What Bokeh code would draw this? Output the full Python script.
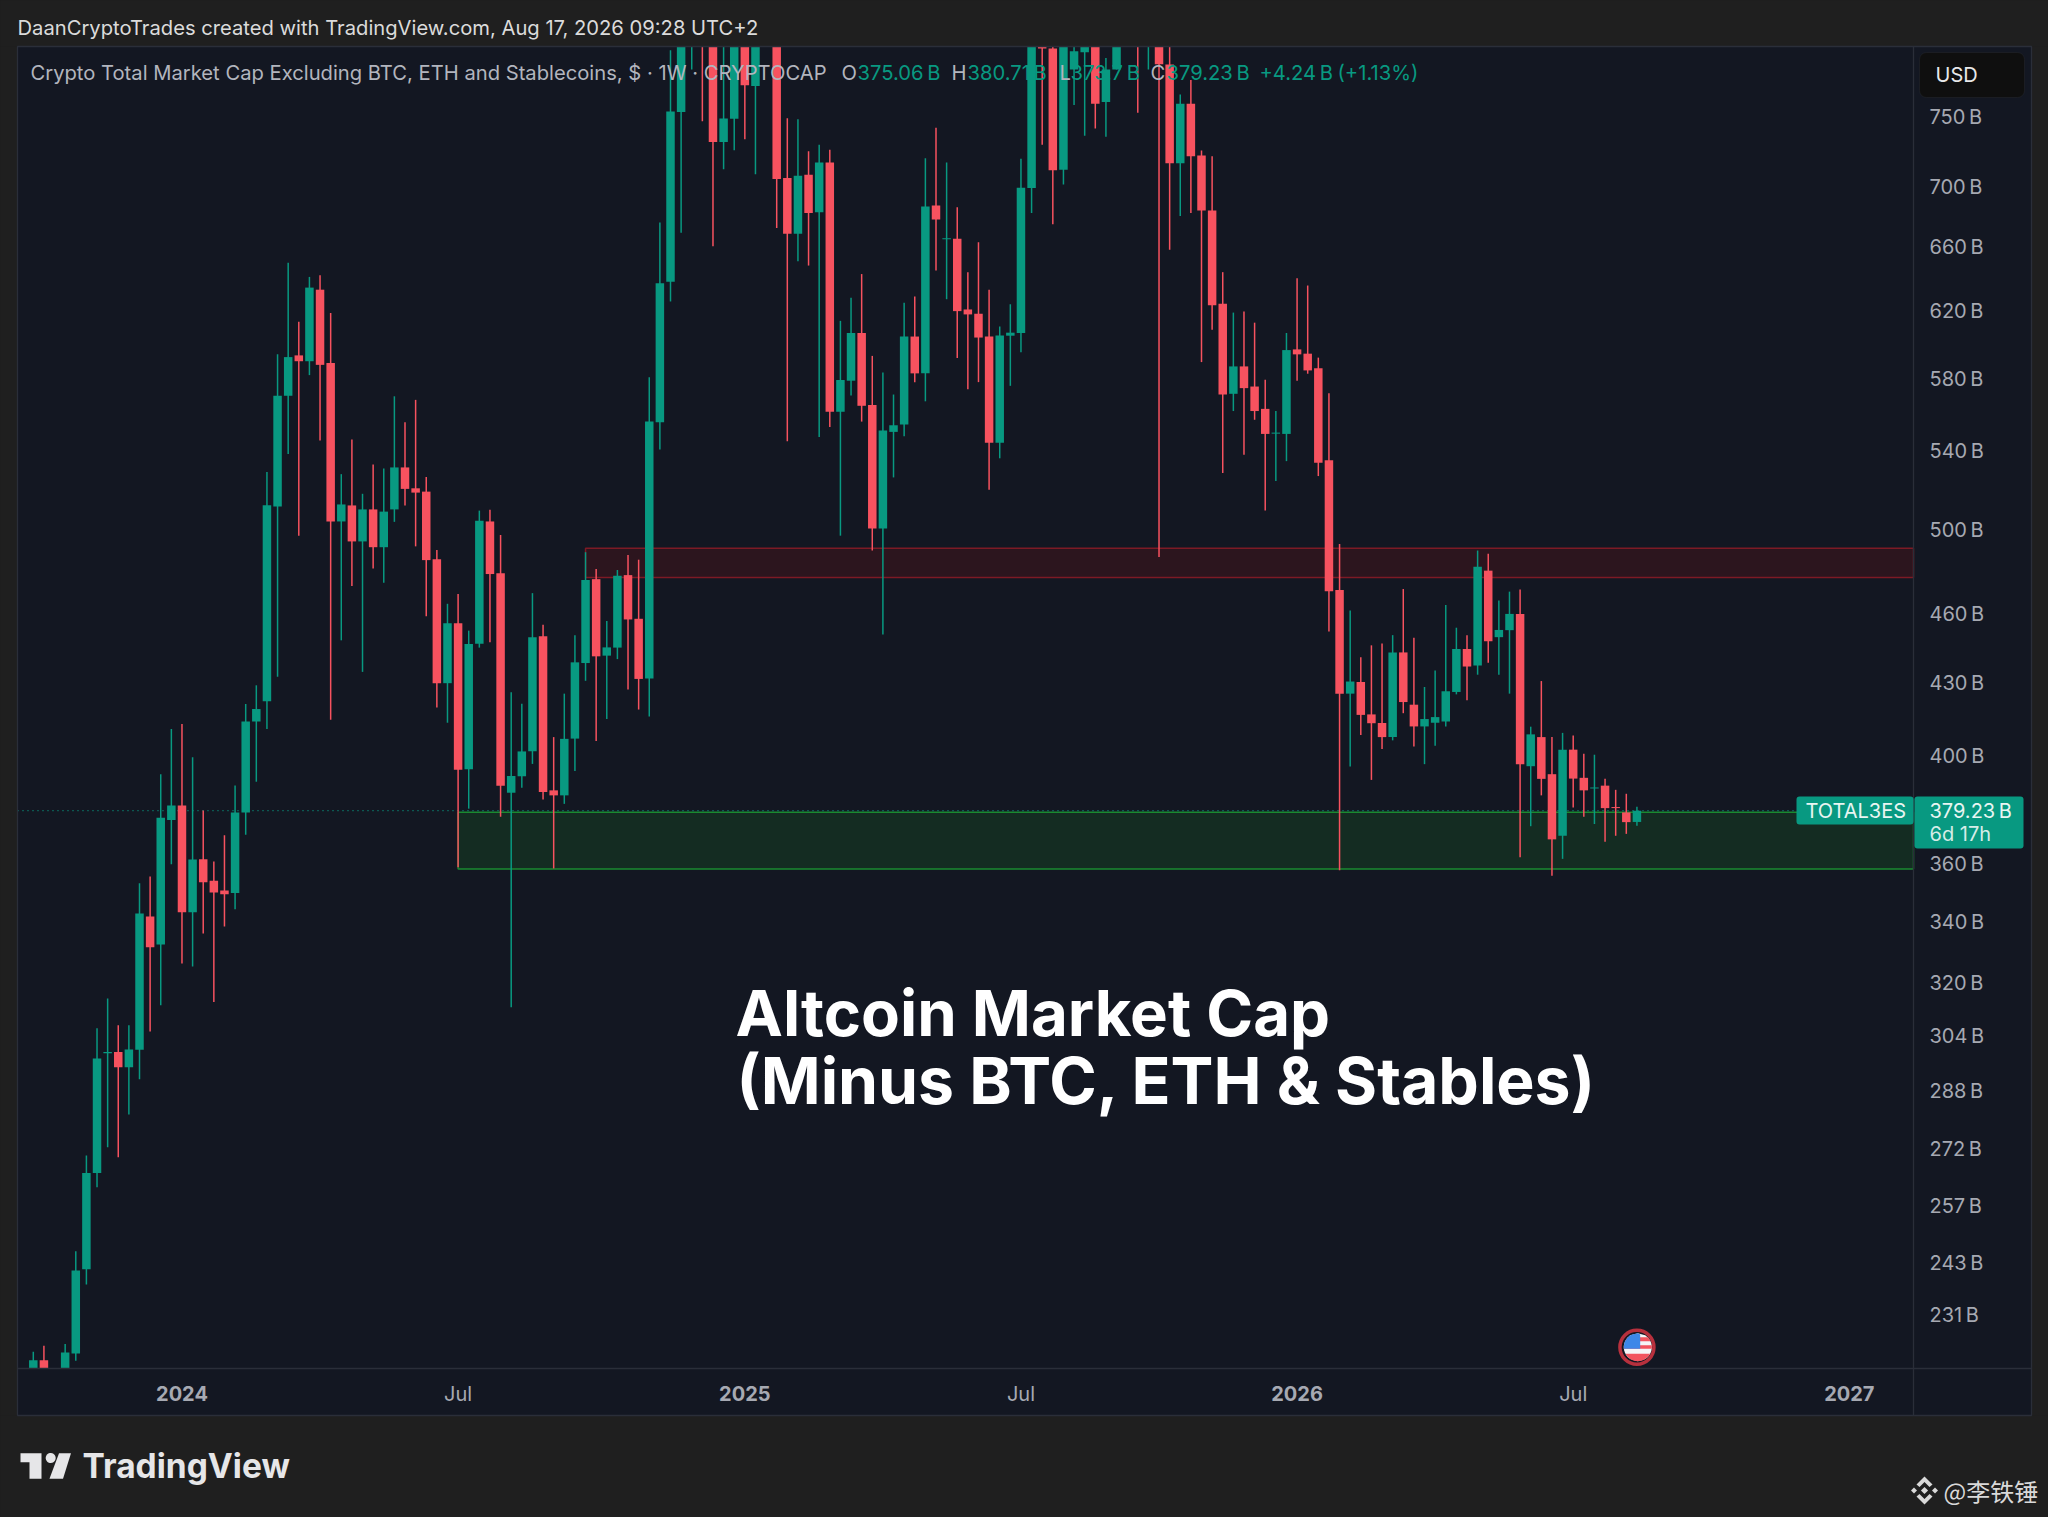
import numpy as np
import pandas as pd
from bokeh.embed import file_html
from bokeh.models import BoxAnnotation, FixedTicker, Label, LinearAxis, PolyAnnotation, Range1d
from bokeh.plotting import figure
from bokeh.resources import INLINE

# ---------- data (billions of USD, weekly candles) ----------
first_week = "2023-09-25"
opens = [217,220.9,215,218,222.4,241.6,265.6,298.8,299.1,294.7,299.8,341.8,332.5,375.8,381.2,343.2,361.6,354,350.6,349.8,
378.6,414,422.3,511.5,570.3,593.4,590,633,589,504,512,494.2,510,491.4,510,531.5,520.7,519,485.6,429.9,
456,395,446.9,504,479,386,392.3,402.1,450.2,386.9,385,407.1,438.5,476.2,441.7,445.2,478.1,458,431.9,555.7,
638,753.8,825,870,820,732,748.8,815,773.3,835,815,706.4,668.8,708.7,683,717.3,561.4,578.8,606.6,565.2,
500.5,550.4,554.4,604.5,583,687.7,665.5,665.5,620.8,618.2,604.5,544.6,605,606.6,699.5,815,802.4,712.3,786,799.4,
815,761.3,786,815,850,815,825,789.8,716.8,760,722.3,684.3,624.3,571.4,587,575.5,563,549.8,549.3,596.9,
594.4,586,535.3,471.2,425.5,430.4,416.9,413.4,407.7,443.1,420.9,412,413.5,414,426.2,444.6,437.4,480.2,449.8,452.9,
460.2,396.2,407.7,393.1,370,402.7,391.7,387.8,388.7,380.6,378.6,375.06]
highs = [222.8,224.1,218,224.5,245.9,270.2,306.2,315.3,307.1,307.1,353.1,355.5,393.1,411,413,399.7,379.3,360.8,370.2,388.8,
421.2,429,529.1,594,650,613.3,641,642,618.6,528,546.3,517.9,533,531,570,555.6,568,526.5,490.1,464.8,
469.3,452.7,509.4,509.8,497.3,426.1,421.3,469.7,455.3,407.7,425.5,450.7,489,481,457,480.5,487.7,485.4,580.8,676.3,
801,835,880,890,850,820,830,845,850,860,845,749.3,748.5,725.3,730,726.3,613.9,628,642.8,593.1,
583.5,571,624.9,628.8,720.4,742.3,717.3,686.4,644,663.2,633,610.5,624,719.9,840,835,830,825,820,830,
840,795,835,860,870,870,860,830,767,778,725.8,721.8,644,618.9,619.5,612.8,579.3,561.8,606.6,640.2,
635.6,592.1,571.7,493,461.7,441,446.2,447,450.7,471.6,449.5,428.3,435.3,464.2,454,450.7,489.8,488.2,466.3,470.4,
471.4,411.9,430.8,407.7,409.4,408.3,401.1,400.7,391.3,387.1,385.6,380.71]
lows = [215,215,213,216,220.8,238,261.9,272.4,269.7,281.3,291.2,305.2,313.2,359.8,326.3,325.4,336.1,314.2,338.4,344.2,
370.4,390.2,411,432.6,538.6,497,582,545.7,414.7,448.4,473,434.7,481.2,474.5,503.8,512,491.8,459.2,419.7,413.5,
358.7,380,445.2,447.6,377,312.6,387.9,397.1,383.4,358.3,381.8,394.3,430.9,406.1,415,440.2,427.2,418.9,416,540.9,
625.7,669.4,786,747,660.6,712.5,726,734,709,808,672.6,545.4,651,648.2,547.6,553,497,570.5,556,489.8,
451,526.3,548,578,567.2,645,627.1,591.9,574,578,519.9,536.3,575.9,595.3,682.6,730,675,702,759,736.4,
741.8,735.7,786,808,753.3,786,486.7,658.4,680.6,682.6,589.5,608.6,528.6,561.8,538.1,557,509.5,524.4,534.8,578.8,
582.8,527,452.3,357.7,396.1,408.5,390.9,403,406.4,417.4,404,397,404.2,412,425.2,422.7,433.5,438.6,433.5,425.5,
362.3,373.5,385,355.7,361.7,380.4,377,374.3,367.8,370,370.7,373.7]
closes = [220.9,217,217,222.6,241.3,265.6,297.2,299.1,294.7,299.9,342.8,331.6,376.6,381.2,343.2,361.5,353.5,349.9,349.3,378.6,
414,419.1,512.1,570.3,592.4,590,634.3,587.9,504,512.5,494.2,510,491.4,508.9,531.5,520.4,518.5,485.2,429.9,456,
394.8,446.8,504.3,478.6,388.7,392.4,402,449.8,386.3,385,407,438.8,475.8,441.4,445.3,477.8,457.7,431.7,556.1,637,
754.3,815,860,820,732,749,812,774,815,815,705.7,668.8,708,682.6,717.3,561.4,579.2,606.6,564.7,500.5,
551.1,554,604.5,583,687,678.2,665.8,619.8,617.8,603.9,544.6,605.1,606.8,699.7,810,802.4,711.8,808,800.3,810,
760,786,812,840,815,845,790,716.8,760,721.8,684.3,623.4,571,587,574.6,561.8,549.3,550,596.5,594,
584.7,534,470.6,425.5,430.6,416.7,413.3,407.7,443.1,422,412,415,415.8,426.5,444.6,437,482,448,453,460.2,
397,408.8,391.3,368.7,402.7,391.4,386.9,388,380.2,380.4,375,379.23]

y_tick_values = [231,243,257,272,288,304,320,340,360,400,430,460,500,540,580,620,660,700,750]
x_month_ticks = {"2024-07-01": "Jul", "2025-07-07": "Jul", "2026-07-06": "Jul"}
x_year_ticks = {"2024-01-01": "2024", "2025-01-06": "2025", "2026-01-05": "2026", "2027-01-04": "2027"}
support_zone = (358.1, 378.7, "2024-07-01")
resistance_zone = (477.0, 490.9, "2024-09-23")

# ---------- colours ----------
OUTER = "#1f1f1f"; PANE = "#131722"; BORDER = "#2a2e39"
UP = "#089981"; DOWN = "#f7525f"; AXIS_TEXT = "#a6a9b2"; LEGEND_TEXT = "#b2b5be"
FONT = "Inter"

WEEK = 7 * 24 * 3600 * 1000
def ms(d):
    return int(pd.Timestamp(d).value // 1_000_000)

x = np.array([ms(first_week) + i * WEEK for i in range(len(opens))], dtype=float)
o, h, l, c = map(np.array, (opens, highs, lows, closes))
up = c >= o

W, H = 2048, 1517
BAR_PX = 10.62
PX_FIRST = 32.8
def xpx(px):
    return ms(first_week) + (px - PX_FIRST) / BAR_PX * WEEK
def ypx(py):
    return 750 * np.exp((116.7 - py) / 1017)

p = figure(width=W, height=H, output_backend="svg", toolbar_location=None, y_axis_type="log",
           y_axis_location="right", x_range=Range1d(xpx(0), xpx(W)), y_range=Range1d(ypx(H), ypx(0)),
           min_border=0, min_border_left=0, min_border_right=0, min_border_top=0, min_border_bottom=0,
           background_fill_color=OUTER, border_fill_color=OUTER, outline_line_color=None)
p.grid.visible = False

L, R, AX, T, B, AXB = xpx(17), xpx(1913), xpx(2031), ypx(46), ypx(1368), ypx(1415)

def style_axis(a, standoff, bold=False):
    a.major_tick_line_color = None; a.minor_tick_line_color = None; a.axis_line_color = None
    a.major_label_text_color = AXIS_TEXT; a.major_label_text_font = FONT
    a.major_label_text_font_size = "20px"; a.major_label_standoff = standoff
    if bold:
        a.major_label_text_font_style = "bold"

ya = p.yaxis[0]
ya.ticker = FixedTicker(ticks=y_tick_values)
ya.major_label_overrides = {t: f"{t}\u202fB" for t in y_tick_values}
ya.fixed_location = R
style_axis(ya, 10)

xa = p.xaxis[0]
xa.ticker = FixedTicker(ticks=[ms(k) for k in x_month_ticks])
xa.major_label_overrides = {ms(k): v for k, v in x_month_ticks.items()}
xa.fixed_location = B
style_axis(xa, 7)
xb = LinearAxis(ticker=FixedTicker(ticks=[ms(k) for k in x_year_ticks]),
                major_label_overrides={ms(k): v for k, v in x_year_ticks.items()}, fixed_location=B)
style_axis(xb, 11, bold=True)
p.add_layout(xb, "below")

def box(x0, y0, x1, y1, fill, line=None, level="annotation", radius=0, lw=1):
    p.add_layout(BoxAnnotation(left=x0, right=x1, top=y0, bottom=y1,
                               left_units="canvas", right_units="canvas", top_units="canvas", bottom_units="canvas",
                               fill_color=fill, fill_alpha=1, line_color=line, line_width=lw, level=level,
                               border_radius=radius, editable=False))

def label(text, px, py, size, color, bold=False, align="left", font=FONT):
    p.add_layout(Label(text=text, x=px, y=py, x_units="canvas", y_units="canvas",
                       text_font=font, text_font_size=f"{size}px", text_color=color,
                       text_font_style="bold" if bold else "normal", text_align=align,
                       text_baseline="middle"))

def poly(xs, ys, fill, level="annotation"):
    p.add_layout(PolyAnnotation(xs=list(xs), ys=list(ys), xs_units="canvas", ys_units="canvas",
                                fill_color=fill, fill_alpha=1, line_color=None, level=level, editable=False))

# chart pane
p.quad(left=L, right=AX, bottom=AXB, top=T, fill_color=PANE, line_color=None)

# zones
p.quad(left=ms(support_zone[2]), right=R, bottom=support_zone[0], top=support_zone[1],
       fill_color="#142c22", line_color="#1a8a30", line_width=1.5)
p.quad(left=ms(resistance_zone[2]), right=R, bottom=resistance_zone[0], top=resistance_zone[1],
       fill_color="#2c151e", line_color="#7d1a25", line_width=1.5)

# last-price line
p.line([L, xpx(1796)], [closes[-1], closes[-1]], line_color=UP, line_dash="1 4", line_width=1.2)

# candles: what runs past the pane's top is cut off there, as on the chart
cap = T * 1.005
h_d, o_d, c_d = np.minimum(h, cap), np.minimum(o, cap), np.minimum(c, cap)
body_top = np.maximum(o_d, c_d)
body_bot = np.minimum(np.minimum(o_d, c_d), body_top * 0.999)
p.segment(x[up], h_d[up], x[up], l[up], line_color=UP, line_width=1.5)
p.segment(x[~up], h_d[~up], x[~up], l[~up], line_color=DOWN, line_width=1.5)
p.vbar(x=x[up], top=body_top[up], bottom=body_bot[up], width=0.8 * WEEK, fill_color=UP, line_color=None)
p.vbar(x=x[~up], top=body_top[~up], bottom=body_bot[~up], width=0.8 * WEEK, fill_color=DOWN, line_color=None)

# header band and time-scale band hide what runs past the pane
p.quad(left=xpx(-5), right=xpx(W + 5), bottom=T, top=ypx(-200), fill_color=OUTER, line_color=None)
p.quad(left=L, right=AX, bottom=AXB, top=B, fill_color=PANE, line_color=None)
p.quad(left=xpx(-5), right=xpx(W + 5), bottom=ypx(H + 5), top=AXB, fill_color=OUTER, line_color=None)
p.quad(left=L, right=AX, bottom=AXB, top=T, fill_color=None, line_color=BORDER, line_width=1.3)
p.segment([R, L], [AXB, B], [R, AX], [T, B], line_color=BORDER, line_width=1.3)

# USD button
box(1919, 52, 2024, 97, "#0f0f0f", "#34373f", radius=7)

# header, legend
label("DaanCryptoTrades created with TradingView.com, Aug 17, 2026 09:28 UTC+2", 17, 27, 20.2, "#dbdbdb")
label("Crypto Total Market Cap Excluding BTC, ETH and Stablecoins, $ · 1W · CRYPTOCAP", 30, 72, 20.2, LEGEND_TEXT)
for t, px, col in [("O", 841, LEGEND_TEXT), ("375.06\u202fB", 857, UP), ("H", 951, LEGEND_TEXT), ("380.71\u202fB", 967, UP),
                   ("L", 1059, LEGEND_TEXT), ("373.7\u202fB", 1070, UP), ("C", 1150, LEGEND_TEXT), ("379.23\u202fB", 1166, UP),
                   ("+4.24\u202fB", 1259, UP), ("(+1.13%)", 1337, UP)]:
    label(t, px, 72, 20.2, col)
label("USD", 1935, 74, 20, "#e8e8ea")

# price tags
box(1796, 796, 1913, 824, UP, radius=3)
box(1914, 796, 2023, 848, UP, radius=3)
label("TOTAL3ES", 1805, 810, 20, "#e8f5f2")
label("379.23\u202fB", 1929, 810, 20, "#e8f5f2")
label("6d 17h", 1929, 833, 20, "#d5ece7")

# title
label("Altcoin Market Cap", 735, 1012, 63.5, "#ffffff", bold=True)
label("(Minus BTC, ETH & Stables)", 736, 1080, 64.3, "#ffffff", bold=True)

# economic-event flag
p.scatter([x[-1]], [ypx(1346.7)], size=34, marker="circle", fill_color=PANE, line_color="#b7303d", line_width=3.5, level="overlay")
cx, cy, r = 1637.3, 1346.7, 14.0
def flag_part(x0, x1, y0, y1, col):
    ys = np.linspace(y0, y1, 14)
    half = np.sqrt(np.maximum(r * r - ys * ys, 0))
    left = np.maximum(-half, x0); right = np.minimum(half, x1)
    poly(cx + np.r_[left, right[::-1]], cy + np.r_[ys, ys[::-1]], col, level="overlay")
flag_part(-14, 14, -14, 14, "#f5f5f7")
flag_part(-14, 14, -10, -6, "#f2545f")
flag_part(-14, 14, -2, 1.6, "#f2545f")
flag_part(-14, 14, 6.6, 14, "#f2545f")
flag_part(-14, 2.4, -14, 1.6, "#3d87e8")

# TradingView logo
LOGO = "#e6e6e8"
poly([20, 41, 41, 29, 29, 20], [1452.7, 1452.7, 1478.3, 1478.3, 1461.7, 1461.7], LOGO)
th = np.linspace(0, 2 * np.pi, 30)
poly(50.2 + 5 * np.cos(th), 1457.5 + 5 * np.sin(th), LOGO)
poly([58.5, 70.5, 62.5, 49], [1452.7, 1452.7, 1478.3, 1478.3], LOGO)
label("TradingView", 82, 1465, 33.5, LOGO, bold=True)

# watermark
MARK = "#d9d9d9"
bx, by = 1924, 1490
poly([bx, bx + 8, bx + 5, bx, bx - 5, bx - 8], [by - 14, by - 6, by - 3.5, by - 8.5, by - 3.5, by - 6], MARK)
poly([bx, bx + 8, bx + 5, bx, bx - 5, bx - 8], [by + 14, by + 6, by + 3.5, by + 8.5, by + 3.5, by + 6], MARK)
for dx, rr in [(-10.5, 3), (10.5, 3), (0, 3.6)]:
    poly([bx + dx, bx + dx + rr, bx + dx, bx + dx - rr], [by - rr, by, by + rr, by], MARK)
label("@李铁锤", 1943, 1490, 24, MARK, font="Noto Sans CJK SC")

html = file_html(p, INLINE).replace("</head>", "<style>html,body{background:#1f1f1f}</style></head>")
open("out.html", "w").write(html)
